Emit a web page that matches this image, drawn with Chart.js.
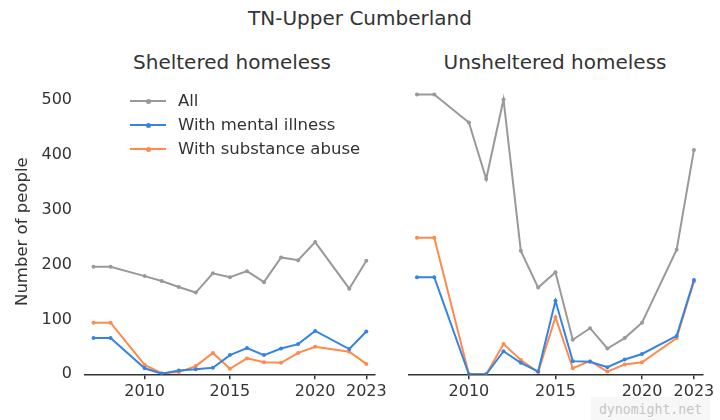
<!doctype html>
<html lang="en">
<head>
<meta charset="utf-8" />
<title>TN-Upper Cumberland</title>
<style>
  *{box-sizing:border-box}
  body{margin:0; width:720px; height:420px; background:#fff; font-family:"DejaVu Sans",sans-serif; color:#333; position:relative; overflow:hidden}
  .t{position:absolute; white-space:nowrap; transform:translate(-50%,-50%); line-height:1}
  .main{left:360px; top:18px; font-size:20px}
  .sub{top:62px; font-size:20px}
  .cv{position:absolute; top:80px; height:340px}
  .legend{position:absolute; left:130px; top:89px; font-size:16.5px; line-height:1}
  .row{display:flex; align-items:center; height:24px}
  .sw{position:relative; width:36px; height:2px; margin-right:12px}
  .sw::after{content:""; position:absolute; left:16px; top:-1.5px; width:5px; height:5px; border-radius:50%; background:inherit}
  .mark{position:absolute; left:591px; top:397px; width:119px; height:24px; background:#f7f7f7;
        font:13.2px "DejaVu Sans Mono",monospace; color:#c6c6c6; display:flex; align-items:center; justify-content:center}
</style>
<script src="https://cdn.jsdelivr.net/npm/chart.js@4.4.1/dist/chart.umd.min.js"></script>
</head>
<body>
  <div class="t main">TN-Upper Cumberland</div>
  <div class="t sub" style="left:232px">Sheltered homeless</div>
  <div class="t sub" style="left:555px">Unsheltered homeless</div>

  <div class="cv" style="left:0;width:390px"><canvas id="left"></canvas></div>
  <div class="cv" style="left:390px;width:330px"><canvas id="right"></canvas></div>

  <div class="legend">
    <div class="row"><div class="sw" style="background:#999"></div>All</div>
    <div class="row"><div class="sw" style="background:#3584e4"></div>With mental illness</div>
    <div class="row"><div class="sw" style="background:#ff8a4c"></div>With substance abuse</div>
  </div>

  <div class="mark">dynomight.net</div>

<script>
const years = [2007, 2008, 2010, 2011, 2012, 2013, 2014, 2015, 2016, 2017, 2018, 2019, 2020, 2022, 2023];
const xTicks = [2010, 2015, 2020, 2023];
const yTicks = [0, 100, 200, 300, 400, 500];

const shelteredAll       = [196, 196, 179, 170, 159, 149, 184, 177, 188, 168, 213, 208, 241, 156, 207];
const shelteredMental    = [66, 66, 11, 1, 7, 9, 12, 35, 48, 35, 47, 55, 79, 46, 78];
const shelteredSubstance = [94, 94, 17, 2, 4, 15, 39, 10, 29, 22, 21, 39, 50, 41, 19];

const unshelteredAll       = [510, 510, 459, 356, 501, 225, 158, 186, 63, 84, 47, 66, 94, 227, 409];
const unshelteredMental    = [177, 177, 0, 0, 42, 21, 5, 134, 24, 23, 13, 27, 37, 70, 172];
const unshelteredSubstance = [249, 249, 0, 0, 55, 26, 4, 104, 11, 24, 5, 18, 22, 66, 169];

const GRAY = "#999999", BLUE = "#3584e4", ORANGE = "#ff8a4c";
const FONT = "'DejaVu Sans', sans-serif";

const pts = vals => years.map((y, i) => ({ x: y, y: vals[i] }));
const ds = (vals, color) => ({
  data: pts(vals), borderColor: color, backgroundColor: color,
  borderWidth: 2, pointRadius: 2, pointBorderWidth: 0, tension: 0
});

function makeChart(id, all, mental, substance, showY) {
  return new Chart(document.getElementById(id), {
    type: "line",
    data: { datasets: [ds(all, GRAY), ds(mental, BLUE), ds(substance, ORANGE)] },
    options: {
      responsive: true, maintainAspectRatio: false, animation: false,
      layout: { padding: { top: 9, right: showY ? 11 : 17.4, left: showY ? 0 : 18.3, bottom: 0 } },
      plugins: { legend: { display: false }, tooltip: { enabled: false } },
      scales: {
        x: {
          type: "linear", min: 2006.5, max: 2023.5,
          afterBuildTicks: s => { s.ticks = xTicks.map(v => ({ value: v })); },
          afterFit: s => { s.height = 45.7; },
          grid: { drawOnChartArea: false, drawTicks: true, tickLength: 5, color: "#333", lineWidth: 1.5 },
          border: { display: true, color: "#333", width: 1.5 },
          ticks: { padding: 3, color: "#333", font: { family: FONT, size: 16 }, maxRotation: 0, callback: v => String(v) }
        },
        y: {
          display: showY, min: 0, max: 520,
          afterBuildTicks: s => { s.ticks = yTicks.map(v => ({ value: v })); },
          afterFit: s => { if (showY) { s.width = 85; } s.paddingTop = 0; s.paddingBottom = 0; },
          grid: { display: false, drawTicks: false },
          border: { display: false },
          ticks: { padding: 13, color: "#333", font: { family: FONT, size: 16 } },
          title: { display: true, text: "Number of people", color: "#333", font: { family: FONT, size: 16.5 }, padding: { top: 13, bottom: 0 } }
        }
      }
    }
  });
}

makeChart("left", shelteredAll, shelteredMental, shelteredSubstance, true);
makeChart("right", unshelteredAll, unshelteredMental, unshelteredSubstance, false);
</script>
</body>
</html>
